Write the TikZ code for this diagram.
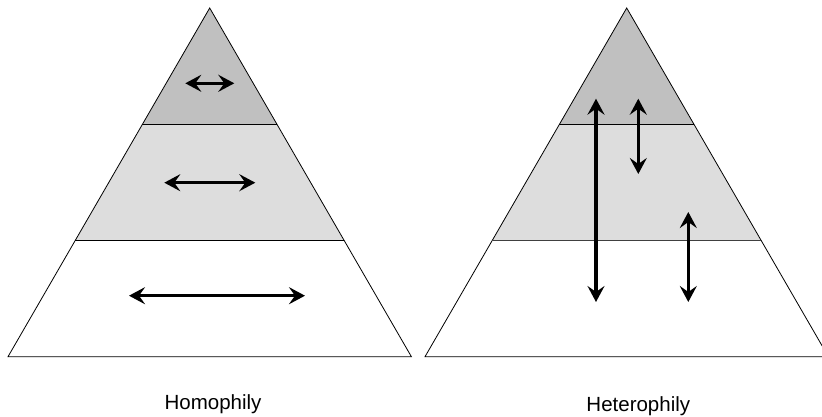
\documentclass[tikz,border=0pt]{standalone}
\usepackage{fontspec}
\setmainfont{Liberation Sans}
\usetikzlibrary{arrows.meta}
\definecolor{bandtop}{HTML}{C0C0C0}
\definecolor{bandmid}{HTML}{DDDDDD}
\tikzset{
  outline/.style={draw=black, line width=0.8pt, line join=miter},
  dbl/.style={line width=3.4pt, {Stealth[length=16pt,width=17pt,inset=6pt]}-{Stealth[length=16pt,width=17pt,inset=6pt]}},
  caption/.style={font=\fontsize{20.5}{24}\selectfont, inner sep=0pt}
}
\begin{document}
\begin{tikzpicture}[x=1pt,y=-1pt]
\useasboundingbox (0,0) rectangle (822,417);
% ---------- left pyramid ----------
\coordinate (LA) at (209.7,8);
\coordinate (L1l) at (142.2,124.7); \coordinate (L1r) at (277.2,124.7);
\coordinate (L2l) at (75.1,240.7);  \coordinate (L2r) at (344.3,240.7);
\coordinate (L3l) at (8,356.7);     \coordinate (L3r) at (411.4,356.7);
\fill[white] (L2l) -- (L2r) -- (L3r) -- (L3l) -- cycle;
\fill[bandmid] (L1l) -- (L1r) -- (L2r) -- (L2l) -- cycle;
\fill[bandtop] (LA) -- (L1r) -- (L1l) -- cycle;
\draw[outline] (LA) -- (L3r) -- (L3l) -- cycle;
\draw[outline] (L1l) -- (L1r);
\draw[outline] (L2l) -- (L2r);
\coordinate (la1) at (185.3,83.3);  \coordinate (lb1) at (234.3,83.3);
\coordinate (la2) at (164.3,182.7); \coordinate (lb2) at (255.3,182.7);
\coordinate (la3) at (129,295.7);   \coordinate (lb3) at (305,295.7);
\draw[dbl] (la1) -- (lb1);
\draw[dbl] (la2) -- (lb2);
\draw[dbl] (la3) -- (lb3);
\node[caption] (homo) at (213,404) {Homophily};
% ---------- right pyramid ----------
\coordinate (RA) at (626.7,8);
\coordinate (R1l) at (559.2,124.7); \coordinate (R1r) at (694.2,124.7);
\coordinate (R2l) at (492.1,240.7); \coordinate (R2r) at (761.3,240.7);
\coordinate (R3l) at (425,356.7);   \coordinate (R3r) at (828.4,356.7);
\fill[white] (R2l) -- (R2r) -- (R3r) -- (R3l) -- cycle;
\fill[bandmid] (R1l) -- (R1r) -- (R2r) -- (R2l) -- cycle;
\fill[bandtop] (RA) -- (R1r) -- (R1l) -- cycle;
\draw[outline] (RA) -- (R3r) -- (R3l) -- cycle;
\draw[outline] (R1l) -- (R1r);
\draw[outline, draw=black!75, line width=1.4pt] (R2l) -- (R2r);
\coordinate (ra1) at (596,98.7);  \coordinate (rb1) at (596,302);
\coordinate (ra2) at (638.3,98.7); \coordinate (rb2) at (638.3,174);
\coordinate (ra3) at (688.3,212); \coordinate (rb3) at (688.3,302);
\draw[dbl] (ra1) -- (rb1);
\draw[dbl] (ra2) -- (rb2);
\draw[dbl] (ra3) -- (rb3);
\node[caption] (hetero) at (638.3,406) {Heterophily};
\end{tikzpicture}
\end{document}
